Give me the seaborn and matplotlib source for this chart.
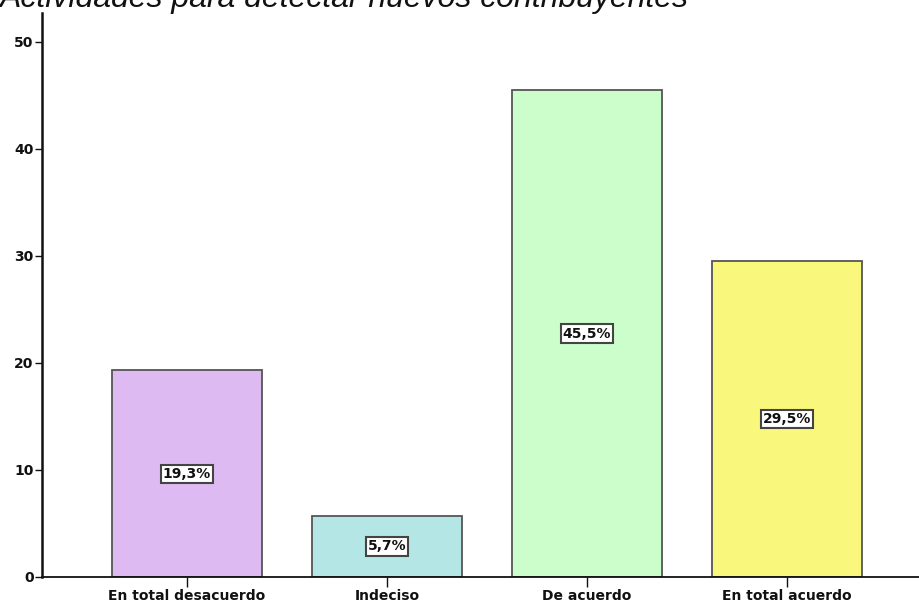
import matplotlib
matplotlib.use("Agg")
import matplotlib.pyplot as plt
import seaborn as sns
import pandas as pd

# datos del grafico
categorias = ["En total desacuerdo", "Indeciso", "De acuerdo", "En total acuerdo"]
porcentajes = [19.3, 5.7, 45.5, 29.5]
etiquetas = ["19,3%", "5,7%", "45,5%", "29,5%"]
colores = ["#DEBAF2", "#B4E6E6", "#CCFECC", "#F9F77C"]
titulo = "Actividades para detectar nuevos contribuyentes"

df = pd.DataFrame({"categoria": categorias, "porcentaje": porcentajes})

sns.set_style("white")
plt.rcParams["font.family"] = ["DejaVu Sans"]

fig = plt.figure(figsize=(9.19, 6.04), dpi=100)
ax = fig.add_axes([42 / 919, 1 - 577 / 604, 1 - 42 / 919, (577 - 13) / 604])

sns.barplot(data=df, x="categoria", y="porcentaje", hue="categoria",
            palette=colores, saturation=1, width=0.75, edgecolor="#555555",
            linewidth=1.3, legend=False, ax=ax)

# etiquetas dentro de las barras
for i, (v, txt) in enumerate(zip(porcentajes, etiquetas)):
    ax.text(i, v / 2, txt, ha="center", va="center", fontsize=10, fontweight="bold",
            color="#111111",
            bbox=dict(boxstyle="square,pad=0.15", facecolor="white",
                      edgecolor="#444444", linewidth=1.5))

ax.set_xlim(-0.725, 3.66)
ax.set_ylim(0, 52.7)
ax.set_yticks([0, 10, 20, 30, 40, 50])
ax.set_xlabel("")
ax.set_ylabel("")
for s in ["top", "right"]:
    ax.spines[s].set_visible(False)
ax.spines["left"].set_linewidth(1.8)
ax.spines["bottom"].set_linewidth(1.3)
ax.spines["left"].set_color("#111111")
ax.spines["bottom"].set_color("#111111")
ax.tick_params(axis="y", direction="out", length=5, width=1, pad=1, labelsize=10,
               left=True, colors="#111111")
ax.tick_params(axis="x", direction="out", length=7, width=1, pad=2, labelsize=10,
               bottom=True, colors="#111111")
for lbl in ax.get_xticklabels() + ax.get_yticklabels():
    lbl.set_fontweight("bold")

fig.text(0.0, 1 - 7 / 604, titulo, fontsize=23, style="italic", color="#111111",
         family=["Liberation Sans", "DejaVu Sans"], ha="left", va="baseline")

fig.savefig("out.png", dpi=100)
